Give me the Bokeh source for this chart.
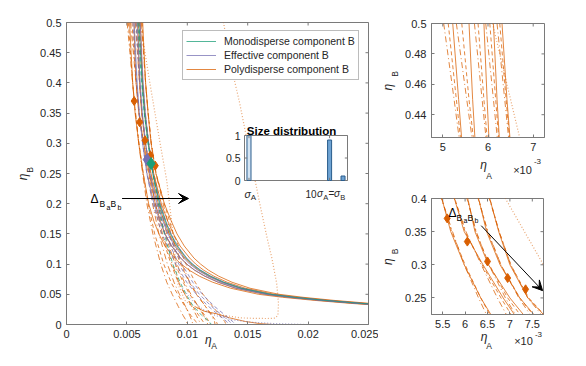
import numpy as np
from bokeh.plotting import figure
from bokeh.models import (Range1d, LinearAxis, FixedTicker, NumeralTickFormatter, Label,
                          Arrow, VeeHead, Legend, LegendItem)
from bokeh.layouts import row, column
from bokeh.core.properties import value
from bokeh.embed import file_html
from bokeh.resources import INLINE

# ---------------- data (eta_A values in units of 1e-3) ----------------
Y_BIN = [0.5, 0.45, 0.4, 0.35, 0.3, 0.25, 0.2, 0.17, 0.15, 0.13, 0.11, 0.1, 0.09, 0.08, 0.07, 0.06,
         0.05, 0.045, 0.04, 0.035, 0.031]
Y_SPIN = [0.5, 0.45, 0.4, 0.35, 0.3, 0.25, 0.2, 0.15, 0.1, 0.07, 0.05, 0.03, 0.015, 0.005, 0.0]

P1_S = [5.22, 5.35, 5.48, 5.68, 5.98, 6.35, 6.80, 7.25, 7.65, 8.15, 8.95, 9.50, 10.15, 11.0, 12.1, 13.6, 15.9, 17.9, 20.5, 23.5, 26.5]
P2_S = [5.58, 5.66, 5.76, 5.98, 6.40, 6.85, 7.35, 7.80, 8.15, 8.70, 9.45, 9.95, 10.6, 11.45, 12.55, 14.0, 16.4, 18.4, 20.9, 23.9, 26.9]
P3_S = [5.91, 5.98, 6.06, 6.22, 6.52, 7.00, 7.60, 8.10, 8.50, 9.05, 9.80, 10.3, 10.95, 11.8, 12.9, 14.4, 16.8, 18.8, 21.3, 24.3, 27.2]
P4_S = [6.12, 6.20, 6.30, 6.48, 6.78, 7.22, 7.85, 8.40, 8.85, 9.40, 10.2, 10.7, 11.35, 12.2, 13.3, 14.8, 17.2, 19.2, 21.7, 24.7, 27.5]
P5_S = [6.31, 6.42, 6.55, 6.75, 7.00, 7.40, 8.10, 8.70, 9.15, 9.75, 10.55, 11.1, 11.75, 12.6, 13.7, 15.2, 17.6, 19.6, 22.1, 25.1, 27.8]

P1_D = [5.12, 5.30, 5.48, 5.70, 6.00, 6.35, 6.75, 7.30, 8.05, 8.65, 9.20, 9.80, 10.3, 10.7, 10.85]
P2_D = [5.42, 5.58, 5.77, 6.00, 6.38, 6.80, 7.25, 7.85, 8.65, 9.25, 9.80, 10.45, 10.95, 11.3, 11.4]
P3_D = [5.78, 5.91, 6.05, 6.24, 6.54, 6.95, 7.50, 8.15, 9.00, 9.65, 10.2, 10.9, 11.45, 11.8, 11.9]
P4_D = [6.04, 6.17, 6.30, 6.50, 6.80, 7.22, 7.80, 8.50, 9.45, 10.15, 10.75, 11.5, 12.05, 12.4, 12.5]
P5_D = [6.26, 6.40, 6.55, 6.76, 7.02, 7.42, 8.10, 8.85, 9.90, 10.65, 11.3, 12.1, 12.7, 13.1, 13.2]

P1_DD = [5.02, 5.25, 5.47, 5.72, 5.98, 6.30, 6.65, 7.15, 7.80, 8.30, 8.75, 9.25, 9.65, 9.95, 10.0]
P2_DD = [5.30, 5.53, 5.76, 6.02, 6.36, 6.72, 7.12, 7.65, 8.35, 8.90, 9.35, 9.85, 10.2, 10.4, 10.45]
P3_DD = [5.70, 5.87, 6.04, 6.25, 6.53, 6.90, 7.35, 7.95, 8.75, 9.30, 9.80, 10.35, 10.75, 11.0, 11.1]
P4_DD = [5.95, 6.12, 6.29, 6.51, 6.80, 7.20, 7.70, 8.30, 9.15, 9.75, 10.3, 10.9, 11.35, 11.6, 11.7]
P5_DD = [6.20, 6.37, 6.54, 6.76, 7.02, 7.40, 8.00, 8.65, 9.55, 10.2, 10.8, 11.5, 12.0, 12.25, 12.3]

E1_S = [5.85, 5.97, 6.10, 6.28, 6.55, 6.90, 7.50, 8.00, 8.40, 8.95, 9.70, 10.2, 10.85, 11.7, 12.8, 14.3, 16.7, 18.7, 21.2, 24.2, 27.1]
E2_S = [6.10, 6.22, 6.35, 6.53, 6.80, 7.15, 7.75, 8.25, 8.65, 9.20, 9.95, 10.45, 11.1, 11.95, 13.05, 14.55, 16.95, 18.95, 21.45, 24.45, 27.35]
E3_S = [5.60, 5.72, 5.85, 6.03, 6.30, 6.65, 7.25, 7.75, 8.15, 8.70, 9.45, 9.95, 10.6, 11.45, 12.55, 14.05, 16.45, 18.45, 20.95, 23.95, 26.85]
E1_D = [5.75, 5.90, 6.06, 6.26, 6.55, 6.90, 7.40, 8.15, 9.30, 10.2, 11.0, 12.0, 12.9, 13.5, 13.7]
E2_D = [6.00, 6.15, 6.31, 6.51, 6.80, 7.15, 7.65, 8.40, 9.55, 10.45, 11.25, 12.25, 13.15, 13.75, 14.0]
E3_D = [5.50, 5.65, 5.81, 6.01, 6.30, 6.65, 7.15, 7.90, 9.05, 9.95, 10.75, 11.75, 12.65, 13.25, 13.45]

M_S = [6.00, 6.12, 6.26, 6.45, 6.75, 7.15, 7.70, 8.20, 8.60, 9.15, 9.90, 10.4, 11.05, 11.9, 13.0, 14.5, 16.9, 18.9, 21.4, 24.4, 27.3]
M_D = [5.90, 6.05, 6.22, 6.43, 6.75, 7.15, 7.60, 8.10, 8.80, 9.40, 9.90, 10.5, 11.2, 11.8, 12.0]

TAIL_X = [10.6, 11.4, 12.45, 13.5, 14.8, 16.0, 17.1]
TAIL_Y = [0.03, 0.022, 0.0177, 0.011, 0.005, 0.0015, 0.0]
EDOT_X = [9.6, 10.4, 11.3, 12.3, 13.6, 15.2, 17.3, 20.0]
EDOT_Y = [0.06, 0.04, 0.025, 0.015, 0.008, 0.004, 0.0015, 0.0]

DOT_X = [6.1, 6.9, 7.75, 8.3, 8.7, 9.0, 9.2, 9.8, 10.5, 12.15, 14.4, 15.5, 16.6, 17.25, 17.5,
         17.55, 17.4, 17.0, 16.6, 16.0, 15.2, 14.3, 13.6, 13.0]
DOT_Y = [0.5, 0.4, 0.3, 0.238, 0.17, 0.11, 0.068, 0.04, 0.028, 0.018, 0.011, 0.0102, 0.0099, 0.0105, 0.015,
         0.035, 0.068, 0.11, 0.144, 0.2, 0.28, 0.37, 0.43, 0.5]

PC_X = [5.6, 6.05, 6.5, 6.95, 7.35]
PC_Y = [0.37, 0.335, 0.305, 0.28, 0.263]
EC_X, EC_Y = [6.68], [0.273]
MC_X, MC_Y = [7.0], [0.2666]

# size distribution inset
SD_X = [1, 10, 11.5]
SD_H = [1.0, 0.9, 0.1]
SD_YT = [0, 0.5, 1]
SD_YL = ["0", "0.5", "1"]
SD_XT = [1, 10]

# ticks
MAIN_XT = [0, 0.005, 0.01, 0.015, 0.02, 0.025]
MAIN_YT = [0, 0.05, 0.1, 0.15, 0.2, 0.25, 0.3, 0.35, 0.4, 0.45, 0.5]
UR_XT = [0.005, 0.006, 0.007]
UR_XL = ["5", "6", "7"]
UR_YT = [0.44, 0.46, 0.48, 0.5]
LR_XT = [0.0055, 0.006, 0.0065, 0.007, 0.0075]
LR_XL = ["5.5", "6", "6.5", "7", "7.5"]
LR_YT = [0.25, 0.3, 0.35, 0.4]

# arrows (data coordinates)
ARROW_MAIN = (0.0046, 0.2086, 0.0101, 0.2086)
ARROW_LR = (0.00636, 0.359, 0.00773, 0.261)

E3 = 1e-3
FONT = "Liberation Sans"
ORANGE, PURPLE, GREEN = "#d95f02", "#7570b3", "#1b9e77"
TXT = "#262626"
BOX = "#7a7a7a"
ALPHA = 0.75


def style(p, xr, yr, fw, fh, xt, yt, xfmt=None, yfmt=None, xover=None, yover=None):
    p.xgrid.visible = False
    p.ygrid.visible = False
    p.outline_line_color = BOX
    p.background_fill_color = "white"
    p.border_fill_color = "white"
    for ax, ticks, fmt, over in ((p.xaxis[0], xt, xfmt, xover), (p.yaxis[0], yt, yfmt, yover)):
        ax.ticker = FixedTicker(ticks=ticks, minor_ticks=[])
        if fmt:
            ax.formatter = NumeralTickFormatter(format=fmt)
        if over:
            ax.major_label_overrides = over
        ax.axis_line_color = BOX
        ax.major_tick_line_color = BOX
        ax.major_tick_in = 3
        ax.major_tick_out = 0
        ax.minor_tick_line_color = None
        ax.major_label_text_font = FONT
        ax.major_label_text_font_size = "11px"
        ax.major_label_text_color = TXT
        ax.major_label_standoff = 5
    # ticks on the top and right edges of the box
    ly = 3.0 / fh * (yr[1] - yr[0])
    lx = 3.0 / fw * (xr[1] - xr[0])
    p.segment(x0=xt, y0=[yr[1]] * len(xt), x1=xt, y1=[yr[1] - ly] * len(xt), line_color=BOX)
    p.segment(x0=[xr[1]] * len(yt), y0=yt, x1=[xr[1] - lx] * len(yt), y1=yt, line_color=BOX)


def text_axis(p, side, ticks, labels, size, standoff, style_="normal", orient=None):
    ax = LinearAxis(ticker=FixedTicker(ticks=ticks, minor_ticks=[]),
                    major_label_overrides=dict(zip(ticks, labels)),
                    axis_line_color=None, major_tick_line_color=None, minor_tick_line_color=None,
                    major_tick_in=0, major_tick_out=0,
                    major_label_text_font=FONT, major_label_text_font_size=size,
                    major_label_text_font_style=style_, major_label_text_color=TXT,
                    major_label_standoff=standoff)
    if orient is not None:
        ax.major_label_orientation = orient
    p.add_layout(ax, side)


def lab(p, x, y, text, size="11px", color="black"):
    p.add_layout(Label(x=x, y=y, x_units="screen", y_units="screen", text=text, text_font=FONT,
                       text_font_size=size, text_color=color, text_baseline="alphabetic",
                       text_align="left"))


def xs(v):
    return np.array(v) * E3


def draw_poly(p):
    p.line(xs(DOT_X), DOT_Y, line_color=ORANGE, line_alpha=0.55, line_width=1.2, line_dash="1 2")
    solids = []
    for s, d, dd in ((P1_S, P1_D, P1_DD), (P2_S, P2_D, P2_DD), (P3_S, P3_D, P3_DD),
                     (P4_S, P4_D, P4_DD), (P5_S, P5_D, P5_DD)):
        p.line(xs(dd), Y_SPIN, line_color=ORANGE, line_alpha=ALPHA, line_width=1, line_dash="6 3 1 3")
        p.line(xs(d), Y_SPIN, line_color=ORANGE, line_alpha=ALPHA, line_width=1, line_dash="4 3")
        solids.append(p.line(xs(s), Y_BIN, line_color=ORANGE, line_alpha=ALPHA, line_width=1))
    return solids


# ---------------- main figure ----------------
MXR, MYR = (0, 0.025), (0, 0.5)
main = figure(x_range=Range1d(*MXR), y_range=Range1d(*MYR), frame_width=302, frame_height=302,
              min_border_left=66, min_border_right=10, min_border_top=22, min_border_bottom=34,
              output_backend="svg", toolbar_location=None, tools="")
style(main, MXR, MYR, 302, 302, MAIN_XT, MAIN_YT, xfmt="0.[000]", yfmt="0.[00]")

orange_solids = draw_poly(main)
main.line(xs(TAIL_X), TAIL_Y, line_color=ORANGE, line_alpha=ALPHA, line_width=1)
main.line(xs(EDOT_X), EDOT_Y, line_color=PURPLE, line_alpha=ALPHA, line_width=1, line_dash="1 2")
purple_solids = []
for s, d in ((E1_S, E1_D), (E2_S, E2_D), (E3_S, E3_D)):
    main.line(xs(d), Y_SPIN, line_color=PURPLE, line_alpha=ALPHA, line_width=1, line_dash="4 3")
    purple_solids.append(main.line(xs(s), Y_BIN, line_color=PURPLE, line_alpha=ALPHA, line_width=1))
main.line(xs(M_D), Y_SPIN, line_color=GREEN, line_alpha=ALPHA, line_width=1, line_dash="4 3")
green_solid = main.line(xs(M_S), Y_BIN, line_color=GREEN, line_alpha=ALPHA, line_width=1)

main.scatter(xs(PC_X), PC_Y, marker="diamond", size=9, fill_color=ORANGE, line_color=ORANGE)
main.scatter(xs(EC_X), EC_Y, marker="diamond", size=12, fill_color=PURPLE, line_color=PURPLE)
main.scatter(xs(MC_X), MC_Y, marker="diamond", size=12, fill_color=GREEN, line_color=GREEN)

main.add_layout(Arrow(end=VeeHead(size=10, fill_color="black", line_color="black"),
                      x_start=ARROW_MAIN[0], y_start=ARROW_MAIN[1], x_end=ARROW_MAIN[2], y_end=ARROW_MAIN[3],
                      line_color="black", line_width=1))
lab(main, 24, 126, "Δ", "12px")
lab(main, 33, 120.5, "B", "8.5px")
lab(main, 40, 117, "a", "7px")
lab(main, 44, 120.5, "B", "8.5px")
lab(main, 51, 117, "b", "7px")

# axis labels eta_A / eta_B made of real text on label-only axes
text_axis(main, "below", [0.01175], ["η"], "12px", -8, "italic")
text_axis(main, "below", [0.01221], ["A"], "8.5px", -9)
text_axis(main, "left", [0.2558], ["B"], "8.5px", 2, orient="parallel")
text_axis(main, "left", [0.2442], ["η"], "12px", -8, "italic", orient="parallel")

# ---------------- inset (size distribution) drawn through extra ranges ----------------
FRAME_L, FRAME_B, FRAME_W, FRAME_H = 66, 324, 302, 302
IN_L, IN_R, IN_T, IN_B = 244, 347, 135, 180          # inset box in page pixels
IN_X0, IN_X1 = 0.5, 12.0                              # inset x domain
ux = (IN_X1 - IN_X0) / (IN_R - IN_L)
uy = 1.0 / (IN_B - IN_T)
ix0 = IN_X0 - (IN_L - FRAME_L) * ux
iy0 = -(FRAME_B - IN_B) * uy
main.extra_x_ranges = {"ix": Range1d(ix0, ix0 + FRAME_W * ux)}
main.extra_y_ranges = {"iy": Range1d(iy0, iy0 + FRAME_H * uy)}
kw = dict(x_range_name="ix", y_range_name="iy")

main.quad(left=[IN_X0], right=[IN_X1], bottom=[0], top=[1], fill_color="white", line_color=BOX,
          line_width=1, **kw)
main.vbar(x=SD_X, top=SD_H, bottom=0, width=0.45, fill_color=["#d4e5f4", "#6ea3d3", "#6ea3d3"],
          line_color="#2b5d8c", line_width=1, **kw)
main.segment(x0=[IN_X0] * 3, y0=SD_YT, x1=[IN_X0 + 0.3] * 3, y1=SD_YT, line_color=BOX, **kw)
main.segment(x0=[IN_X1] * 3, y0=SD_YT, x1=[IN_X1 - 0.3] * 3, y1=SD_YT, line_color=BOX, **kw)
main.segment(x0=SD_XT, y0=[0, 0], x1=SD_XT, y1=[0.06, 0.06], line_color=BOX, **kw)
main.segment(x0=SD_XT, y0=[1, 1], x1=SD_XT, y1=[0.94, 0.94], line_color=BOX, **kw)
main.text(x=[IN_X0 - 4 * ux] * 3, y=SD_YT, text=SD_YL, text_font=value(FONT), text_font_size="10.5px",
          text_color=TXT, text_align="right", text_baseline="middle", **kw)
main.text(x=[5.75], y=[1.11], text=["Size distribution"], text_font=value(FONT), text_font_size="11.5px",
          text_font_style="bold", text_color="black", text_align="center", text_baseline="alphabetic", **kw)
pieces = [(0.5, -0.29, "σ", "10.5px", "italic"), (1.2, -0.38, "A", "8px", "normal"),
          (7.3, -0.29, "10", "10px", "normal"), (8.6, -0.29, "σ", "10px", "italic"),
          (9.28, -0.38, "A", "7.5px", "normal"), (9.87, -0.29, "=", "10px", "normal"),
          (10.5, -0.29, "σ", "10px", "italic"), (11.2, -0.38, "B", "7.5px", "normal")]
for x, y, t, sz, st in pieces:
    main.text(x=[x], y=[y], text=[t], text_font=value(FONT), text_font_size=sz, text_font_style=st,
              text_color=TXT, text_align="left", text_baseline="alphabetic", **kw)

legend = Legend(items=[LegendItem(label="Monodisperse component B", renderers=[green_solid]),
                       LegendItem(label="Effective component B", renderers=[purple_solids[0]]),
                       LegendItem(label="Polydisperse component B", renderers=[orange_solids[0]])],
                location=(116, 244), label_text_font=FONT, label_text_font_size="10.5px",
                label_text_color=TXT, glyph_width=30, glyph_height=14, label_height=14,
                label_standoff=8, spacing=0, padding=3, margin=0,
                border_line_color=BOX, border_line_width=1, background_fill_alpha=1.0)
main.add_layout(legend)

# ---------------- upper right ----------------
UXR, UYR = (0.00475, 0.00725), (0.425, 0.5)
ur = figure(x_range=Range1d(*UXR), y_range=Range1d(*UYR), frame_width=113, frame_height=114,
            min_border_left=50, min_border_right=25, min_border_top=23, min_border_bottom=46,
            output_backend="svg", toolbar_location=None, tools="")
style(ur, UXR, UYR, 113, 114, UR_XT, UR_YT, yfmt="0.[00]", xover=dict(zip(UR_XT, UR_XL)))
draw_poly(ur)
text_axis(ur, "below", [0.007095], ["-3"], "8px", 5)
text_axis(ur, "below", [0.005900], ["η"], "12px", -9, "italic")
text_axis(ur, "below", [0.006763], ["×10"], "11px", -11)
text_axis(ur, "below", [0.006022], ["A"], "8.5px", -8)
text_axis(ur, "left", [0.4668], ["B"], "8.5px", 2, orient="parallel")
text_axis(ur, "left", [0.4582], ["η"], "12px", -8, "italic", orient="parallel")

# ---------------- lower right ----------------
LXR, LYR = (0.00525, 0.00775), (0.225, 0.4)
lr = figure(x_range=Range1d(*LXR), y_range=Range1d(*LYR), frame_width=112, frame_height=116,
            min_border_left=50, min_border_right=26, min_border_top=15, min_border_bottom=44,
            output_backend="svg", toolbar_location=None, tools="")
style(lr, LXR, LYR, 112, 116, LR_XT, LR_YT, yfmt="0.[00]", xover=dict(zip(LR_XT, LR_XL)))
draw_poly(lr)
lr.scatter(xs(PC_X), PC_Y, marker="diamond", size=9, fill_color=ORANGE, line_color=ORANGE)
lr.add_layout(Arrow(end=VeeHead(size=10, fill_color="black", line_color="black"),
                    x_start=ARROW_LR[0], y_start=ARROW_LR[1], x_end=ARROW_LR[2], y_end=ARROW_LR[3],
                    line_color="black", line_width=1))
lab(lr, 17, 102, "Δ", "12px")
lab(lr, 25, 97, "B", "8.5px")
lab(lr, 32, 94, "a", "7px")
lab(lr, 36, 97, "B", "8.5px")
lab(lr, 43, 94, "b", "7px")
text_axis(lr, "below", [0.007638], ["-3"], "8px", 1)
text_axis(lr, "below", [0.006422], ["η"], "12px", -10, "italic")
text_axis(lr, "below", [0.007304], ["×10"], "11px", -12)
text_axis(lr, "below", [0.006534], ["A"], "8.5px", -9)
text_axis(lr, "left", [0.3201], ["B"], "8.5px", 2, orient="parallel")
text_axis(lr, "left", [0.3049], ["η"], "12px", -8, "italic", orient="parallel")

layout = row(main, column(ur, lr))
open("out.html", "w").write(file_html(layout, INLINE))
